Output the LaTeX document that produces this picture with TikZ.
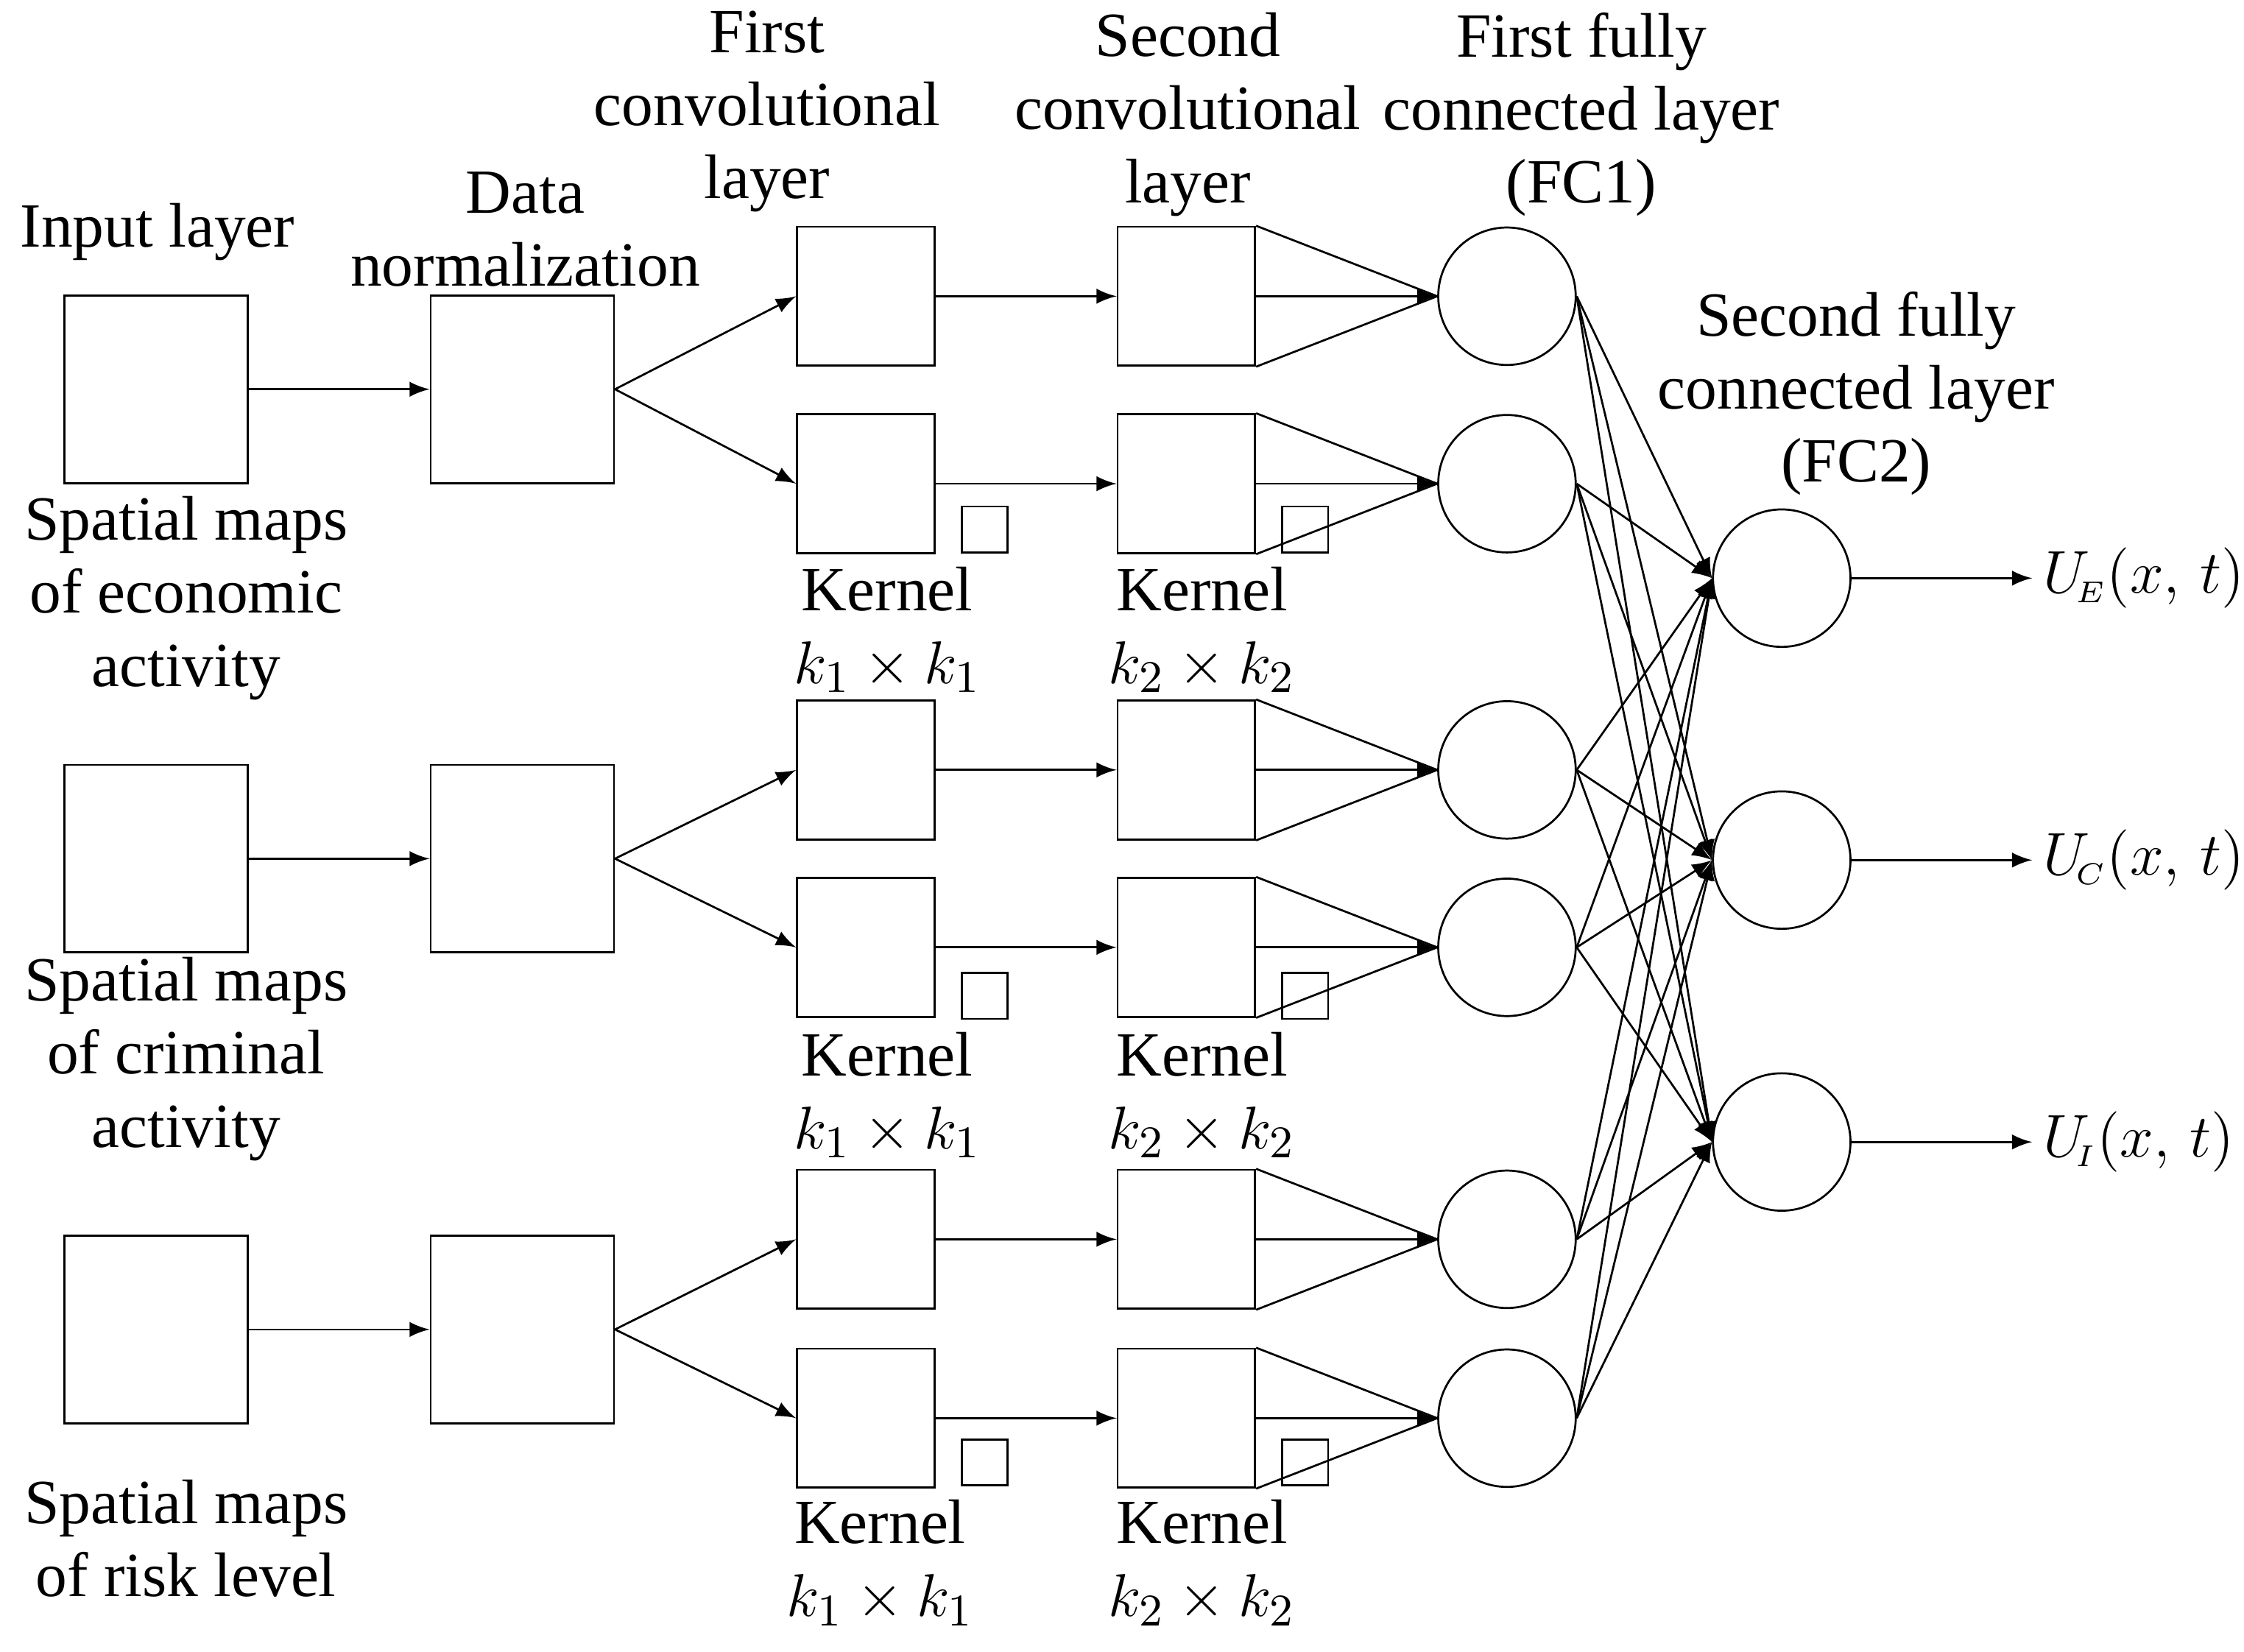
\documentclass[tikz,border=0pt]{standalone}
\usepackage{fontspec}
\setmainfont{Liberation Serif}
\usetikzlibrary{positioning}
\tikzstyle{mapbox}=[draw, minimum width=1.28cm, minimum height=1.31cm, inner sep=0pt]
\tikzstyle{convbox}=[draw, minimum width=0.96cm, minimum height=0.97cm, inner sep=0pt]
\tikzstyle{kernbox}=[draw, minimum size=0.32cm, inner sep=0pt]
\tikzstyle{neuron}=[draw, circle, minimum size=0.96cm, inner sep=0pt]
\tikzstyle{lbl}=[align=center, font=\fontsize{12.5}{14.5}\selectfont]
\tikzstyle{arr}=[-latex]
\begin{document}
\begin{tikzpicture}[x=0.01cm, y=-0.01cm]
  \useasboundingbox (0,0) rectangle (1568,1154);
  %% input and normalization
  \foreach \i/\y in {1/272, 2/600, 3/929} {
    \node[mapbox] (In\i) at (109,\y) {};
    \node[mapbox] (N\i) at (365,\y) {};
    \draw[arr] (In\i) -- (N\i);
  }
  %% convolutional layers
  \foreach \j/\y in {1/207, 2/338, 3/538, 4/662, 5/866, 6/991} {
    \node[convbox] (C\j) at (605,\y) {};
    \node[convbox] (D\j) at (829,\y) {};
    \node[neuron] (F\j) at (1053,\y) {};
    \draw[arr] (C\j) -- (D\j);
    \draw[arr] (D\j.east) -- (F\j);
    \draw (D\j.north east) -- (F\j.west);
    \draw (D\j.south east) -- (F\j.west);
  }
  \foreach \i/\a/\b in {1/1/2, 2/3/4, 3/5/6} {
    \draw[arr] (N\i.east) -- (C\a.west);
    \draw[arr] (N\i.east) -- (C\b.west);
  }
  \node[kernbox] (K1) at (688,370) {};
  \node[kernbox] (L1) at (912,370) {};
  \node[kernbox] (K2) at (688,696) {};
  \node[kernbox] (L2) at (912,696) {};
  \node[kernbox] (K3) at (688,1022) {};
  \node[kernbox] (L3) at (912,1022) {};
  %% fully connected
  \node[neuron] (G1) at (1245,404) {};
  \node[neuron] (G2) at (1245,601) {};
  \node[neuron] (G3) at (1245,798) {};
  \foreach \j in {1,...,6}
    \foreach \k in {1,2,3}
      \draw[arr] (F\j.east) -- (G\k.west);
  \coordinate (O1) at (1420,404);
  \coordinate (O2) at (1420,601);
  \coordinate (O3) at (1420,798);
  \draw[arr] (G1) -- (O1) node[lbl, right, inner sep=2pt] {$U_{\!\scriptscriptstyle E}(x,\,t)$};
  \draw[arr] (G2) -- (O2) node[lbl, right, inner sep=2pt] {$U_{\!\scriptscriptstyle C}(x,\,t)$};
  \draw[arr] (G3) -- (O3) node[lbl, right, inner sep=2pt] {$U_{\!\scriptscriptstyle I}(x,\,t)$};
  %% labels
  \node[lbl] (tIn) at (110,162) {Input layer};
  \node[lbl] (tN) at (367,160) {Data\\normalization};
  \node[lbl] (tC) at (536,78) {First\\convolutional\\layer};
  \node[lbl] (tD) at (830,80) {Second\\convolutional\\layer};
  \node[lbl] (tF) at (1105,80) {First fully\\connected layer\\(FC1)};
  \node[lbl] (tG) at (1297,275) {Second fully\\connected layer\\(FC2)};
  \node[lbl] (s1) at (130,418) {Spatial maps\\of economic\\activity};
  \node[lbl] (s2) at (130,740) {Spatial maps\\of criminal\\activity};
  \node[lbl] (s3) at (130,1075) {Spatial maps\\of risk level};
  \node[lbl] (k1) at (620,440) {Kernel\\$k_1\times k_1$};
  \node[lbl] (m1) at (840,440) {Kernel\\$k_2\times k_2$};
  \node[lbl] (k2) at (620,765) {Kernel\\$k_1\times k_1$};
  \node[lbl] (m2) at (840,765) {Kernel\\$k_2\times k_2$};
  \node[lbl] (k3) at (615,1092) {Kernel\\$k_1\times k_1$};
  \node[lbl] (m3) at (840,1092) {Kernel\\$k_2\times k_2$};
\end{tikzpicture}
\end{document}
